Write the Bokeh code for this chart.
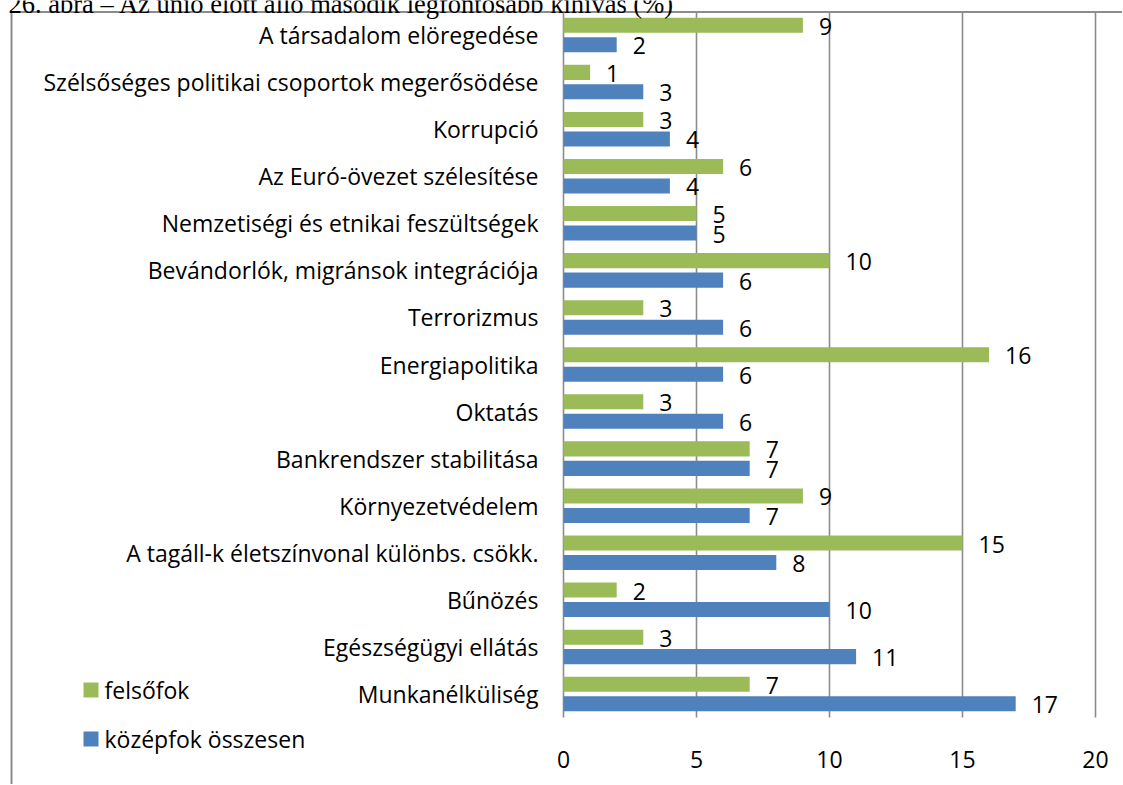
from bokeh.plotting import figure
from bokeh.models import Range1d
from bokeh.core.properties import value
from bokeh.embed import file_html
from bokeh.resources import INLINE

# ---------------- data (top to bottom as in the chart) ----------------
categories = [
    "A társadalom elöregedése",
    "Szélsőséges politikai csoportok megerősödése",
    "Korrupció",
    "Az Euró-övezet szélesítése",
    "Nemzetiségi és etnikai feszültségek",
    "Bevándorlók, migránsok integrációja",
    "Terrorizmus",
    "Energiapolitika",
    "Oktatás",
    "Bankrendszer stabilitása",
    "Környezetvédelem",
    "A tagáll-k életszínvonal különbs. csökk.",
    "Bűnözés",
    "Egészségügyi ellátás",
    "Munkanélküliség",
]
felsofok = [9, 1, 3, 6, 5, 10, 3, 16, 3, 7, 9, 15, 2, 3, 7]
kozepfok = [2, 3, 4, 4, 5, 6, 6, 6, 6, 7, 7, 8, 10, 11, 17]
series_names = ["felsőfok", "középfok összesen"]
x_ticks = [0, 5, 10, 15, 20]
x_tick_labels = ["0", "5", "10", "15", "20"]
title_text = "26. ábra – Az unió előtt álló második legfontosabb kihívás (%)"

# ---------------- style / layout ----------------
GREEN = "#9BBB59"
BLUE = "#4F81BD"
GRID = "#8c8c8c"
FONT = value("Open Sans")
FS = "23px"

W, H = 1122, 784
PX_X0, PX_X20 = 563.0, 1095.0      # pixel positions of value 0 and 20
PX_TOP, PX_BOTTOM = 11.0, 717.0    # pixel extent of the plot area
N = len(categories)
XU = (PX_X20 - PX_X0) / 20.0
ROW = (PX_BOTTOM - PX_TOP) / N


def xd(px):
    return (px - PX_X0) / XU


def yd(py):
    return (PX_BOTTOM - py) / ROW


p = figure(width=W, height=H, x_range=Range1d(xd(0), xd(W)), y_range=Range1d(yd(H), yd(0)),
           output_backend="svg", toolbar_location=None,
           min_border=0, min_border_left=0, min_border_right=0, min_border_top=0, min_border_bottom=0)
p.axis.visible = False
p.grid.visible = False
p.outline_line_color = None
p.background_fill_color = "white"
p.border_fill_color = "white"

# category centres (index 0 at the top)
centres = [N - 0.5 - i for i in range(N)]
OFF, BAR_H = 0.207, 0.32
y_fel = [c + OFF for c in centres]
y_koz = [c - OFF for c in centres]

# vertical grid lines
p.segment(x0=x_ticks, x1=x_ticks, y0=[0] * len(x_ticks), y1=[N] * len(x_ticks),
          line_color=GRID, line_width=1.6)

# bars
p.hbar(y=y_fel, left=0, right=felsofok, height=BAR_H, fill_color=GREEN, line_color=None)
p.hbar(y=y_koz, left=0, right=kozepfok, height=BAR_H, fill_color=BLUE, line_color=None)

# value labels
p.text(x=felsofok, y=y_fel, text=[str(v) for v in felsofok], x_offset=16, y_offset=1,
       text_align="left", text_baseline="middle", text_font=FONT, text_font_size=FS,
       text_color="black")
p.text(x=kozepfok, y=y_koz, text=[str(v) for v in kozepfok], x_offset=16, y_offset=1,
       text_align="left", text_baseline="middle", text_font=FONT, text_font_size=FS,
       text_color="black")

# category labels
p.text(x=[0] * N, y=centres, text=categories, x_offset=-25,
       text_align="right", text_baseline="middle", text_font=FONT, text_font_size=FS,
       text_color="black")

# x tick labels
p.text(x=x_ticks, y=[yd(759)] * len(x_ticks), text=x_tick_labels,
       text_align="center", text_baseline="middle", text_font=FONT, text_font_size=FS,
       text_color="black")

# legend
leg_y = [yd(689.5), yd(738.5)]
p.scatter(x=[xd(90.5)] * 2, y=leg_y, marker="square", size=15,
          fill_color=[GREEN, BLUE], line_color=None)
p.text(x=[xd(104)] * 2, y=leg_y, text=series_names, text_align="left", text_baseline="middle",
       text_font=FONT, text_font_size=FS, text_color="black")

# chart area border (left and top edges visible)
p.line(x=[xd(11), xd(11), xd(W + 5)], y=[yd(H + 5), yd(11.5), yd(11.5)],
       line_color=GRID, line_width=2)

# caption, cut off at the top of the page
p.text(x=[xd(8)], y=[yd(3)], text=[title_text], text_align="left", text_baseline="alphabetic",
       text_font=value("Liberation Serif"), text_font_size="26.5px", text_color="black")

open("out.html", "w").write(file_html(p, INLINE))
